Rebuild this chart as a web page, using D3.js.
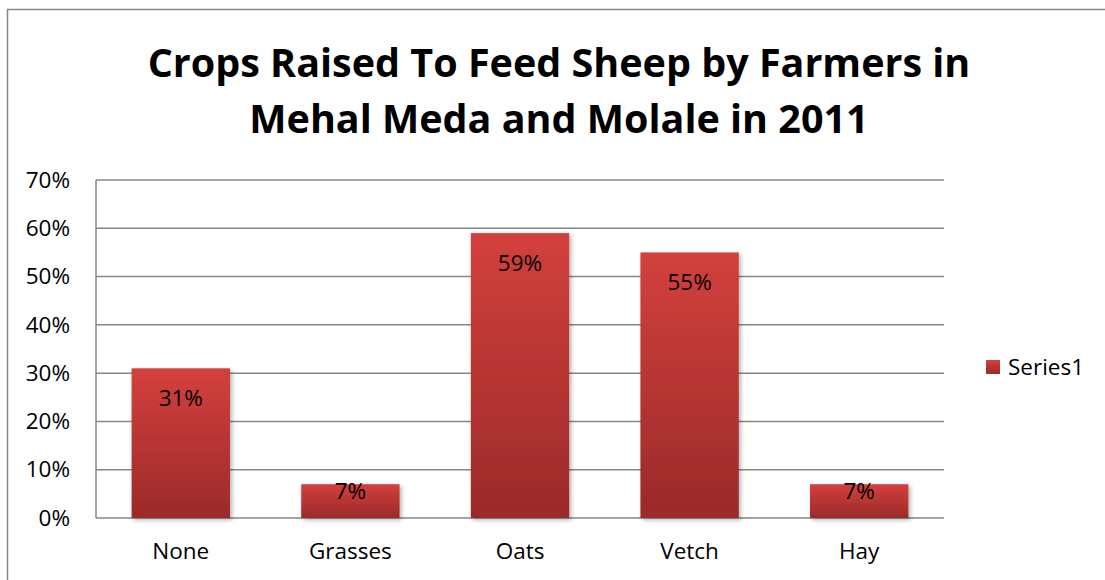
<!DOCTYPE html>
<html>
<head>
<meta charset="utf-8">
<script src="https://cdn.jsdelivr.net/npm/d3@7"></script>
<style>
  body { margin: 0; background: #fff; }
  svg { display: block; font-family: "Open Sans", "Noto Sans", sans-serif; }
</style>
</head>
<body>
<svg id="chart" width="1105" height="580"></svg>
<script>
// chart data
var categories = ['None', 'Grasses', 'Oats', 'Vetch', 'Hay'];
var values = [0.31, 0.07, 0.59, 0.55, 0.07];
var yTicks = [0, 0.1, 0.2, 0.3, 0.4, 0.5, 0.6, 0.7];
var titleLines = ['Crops Raised To Feed Sheep by Farmers in', 'Mehal Meda and Molale in 2011'];
var seriesName = 'Series1';

var plot = {left: 96, right: 944, top: 180, bottom: 518};
var labelSize = 22.5;

var svg = d3.select('#chart');

// gradient + shadow for bars
var defs = svg.append('defs');
var grad = defs.append('linearGradient')
    .attr('id', 'barGrad')
    .attr('x1', 0).attr('y1', 0).attr('x2', 0).attr('y2', 1);
grad.append('stop').attr('offset', '0%').attr('stop-color', '#d3403d');
grad.append('stop').attr('offset', '100%').attr('stop-color', '#9b2a29');

var shadow = defs.append('filter').attr('id', 'shadow')
    .attr('x', '-10%').attr('y', '-10%').attr('width', '130%').attr('height', '130%');
shadow.append('feDropShadow')
    .attr('dx', 2).attr('dy', 2).attr('stdDeviation', 2)
    .attr('flood-color', '#000').attr('flood-opacity', 0.3);

// outer frame (only left & top visible)
svg.append('path')
    .attr('d', 'M7.5,580 V9.5 H1105')
    .attr('fill', 'none')
    .attr('stroke', '#868686')
    .attr('stroke-width', 1.5);

// title
svg.append('g').selectAll('text')
    .data(titleLines)
    .join('text')
    .attr('x', 559)
    .attr('y', function(d, i){ return 77 + i * 56; })
    .attr('text-anchor', 'middle')
    .attr('font-weight', 'bold')
    .attr('font-size', 39.5)
    .attr('fill', '#000')
    .text(function(d){ return d; });

var x = d3.scaleBand()
    .domain(categories)
    .range([plot.left, plot.right])
    .paddingInner(0.42)
    .paddingOuter(0.21);

var y = d3.scaleLinear()
    .domain([0, 0.7])
    .range([plot.bottom, plot.top]);

// gridlines
svg.append('g')
    .selectAll('line')
    .data(yTicks)
    .join('line')
    .attr('x1', plot.left)
    .attr('x2', plot.right)
    .attr('y1', function(d){ return y(d); })
    .attr('y2', function(d){ return y(d); })
    .attr('stroke', '#868686')
    .attr('stroke-width', 1.5);

// y axis line
svg.append('line')
    .attr('x1', plot.left).attr('x2', plot.left)
    .attr('y1', plot.top).attr('y2', plot.bottom)
    .attr('stroke', '#868686')
    .attr('stroke-width', 1.5);

// y axis labels
var yAxis = d3.axisLeft(y)
    .tickValues(yTicks)
    .tickFormat(d3.format('.0%'))
    .tickSize(0)
    .tickPadding(26);
var yg = svg.append('g')
    .attr('transform', 'translate(' + plot.left + ',0)')
    .call(yAxis);
yg.select('.domain').remove();
yg.selectAll('text')
    .attr('font-family', '"Open Sans", sans-serif')
    .attr('font-size', labelSize)
    .attr('fill', '#000');

// x axis labels
var xAxis = d3.axisBottom(x).tickSize(0).tickPadding(25);
var xg = svg.append('g')
    .attr('transform', 'translate(0,' + plot.bottom + ')')
    .call(xAxis);
xg.select('.domain').remove();
xg.selectAll('text')
    .attr('font-family', '"Open Sans", sans-serif')
    .attr('font-size', labelSize)
    .attr('fill', '#000');

// bars
var rows = categories.map(function(c, i){ return {cat: c, val: values[i]}; });
svg.append('g')
    .selectAll('rect')
    .data(rows)
    .join('rect')
    .attr('x', function(d){ return x(d.cat); })
    .attr('y', function(d){ return y(d.val); })
    .attr('width', x.bandwidth())
    .attr('height', function(d){ return y(0) - y(d.val); })
    .attr('fill', 'url(#barGrad)')
    .attr('filter', 'url(#shadow)');

// data labels, inside end
svg.append('g')
    .selectAll('text')
    .data(rows)
    .join('text')
    .attr('x', function(d){ return x(d.cat) + x.bandwidth() / 2; })
    .attr('y', function(d){ return Math.min(y(d.val) + 38, plot.bottom - 19); })
    .attr('text-anchor', 'middle')
    .attr('font-size', labelSize)
    .attr('fill', '#000')
    .text(function(d){ return d3.format('.0%')(d.val); });

// legend
var legend = svg.append('g').attr('transform', 'translate(986,360)');
legend.append('rect')
    .attr('width', 14).attr('height', 14)
    .attr('fill', 'url(#barGrad)');
legend.append('text')
    .attr('x', 22).attr('y', 15)
    .attr('font-size', labelSize)
    .attr('fill', '#000')
    .text(seriesName);
</script>
</body>
</html>
